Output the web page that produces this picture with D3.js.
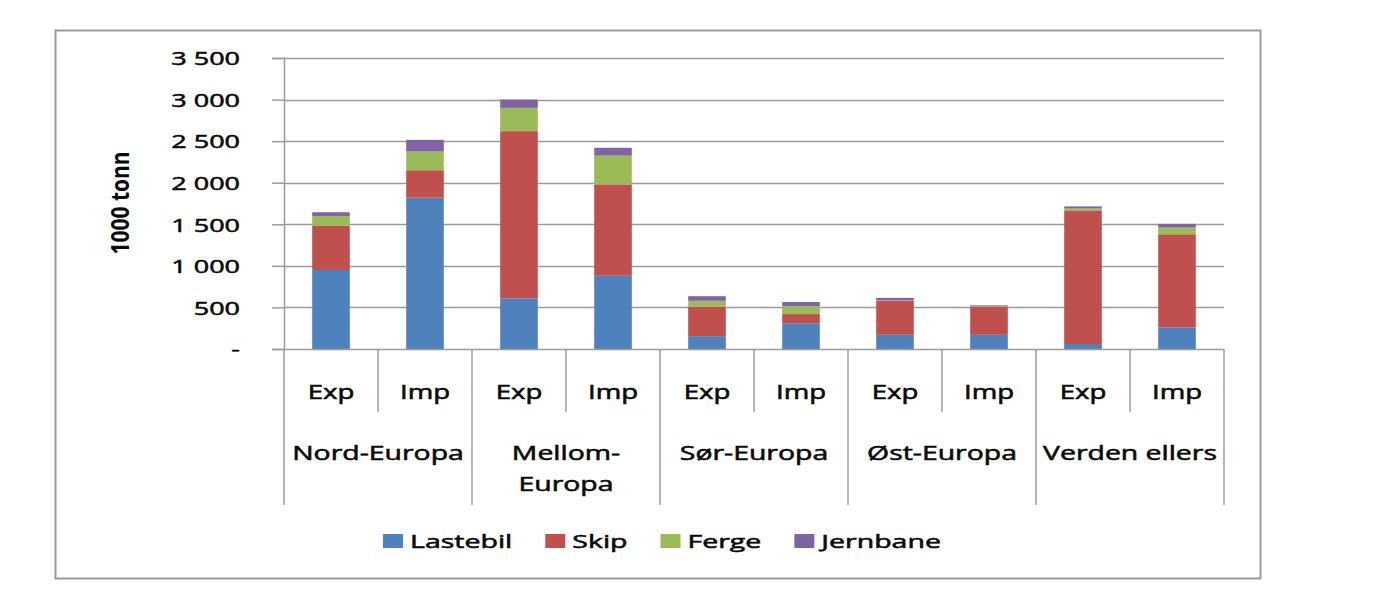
<!DOCTYPE html>
<html>
<head>
<meta charset="utf-8">
<script src="https://cdn.jsdelivr.net/npm/d3@7"></script>
<style>
  html, body { margin: 0; padding: 0; background: #fff; }
  svg { display: block; }
  text { font-family: "Open Sans", "Noto Sans", sans-serif; fill: #0a0a0a; }
</style>
</head>
<body>
<svg id="chart" width="1385" height="590"></svg>
<script>
// ---- Data ----
const regions = ["Nord-Europa", "Mellom-Europa", "Sør-Europa", "Øst-Europa", "Verden ellers"];
const regionLines = [["Nord-Europa"], ["Mellom-", "Europa"], ["Sør-Europa"], ["Øst-Europa"], ["Verden ellers"]];
const flows = ["Exp", "Imp"];
const seriesNames = ["Lastebil", "Skip", "Ferge", "Jernbane"];
const lastebil = [950, 1820, 610, 880, 155, 310, 170, 170, 60, 260];
const skip     = [530, 330, 2010, 1100, 355, 110, 410, 340, 1600, 1120];
const ferge    = [120, 225, 280, 345, 70, 95, 5, 5, 30, 80];
const jernbane = [45, 140, 100, 95, 55, 50, 30, 10, 25, 45];
const yTicks = [0, 500, 1000, 1500, 2000, 2500, 3000, 3500];
const yTickLabels = ["-", "500", "1 000", "1 500", "2 000", "2 500", "3 000", "3 500"];
const yTitle = "1000 tonn";
const colors = ["#4F81BD", "#C0504D", "#9BBB59", "#8064A2"];

// ---- Build table ----
const keys = [];
regions.forEach(r => flows.forEach(f => keys.push(r + "|" + f)));
const table = keys.map((k, i) => ({
  key: k, Lastebil: lastebil[i], Skip: skip[i], Ferge: ferge[i], Jernbane: jernbane[i]
}));
const stacked = d3.stack().keys(seriesNames)(table);

// ---- Layout ----
const svg = d3.select("#chart");
const plot = { left: 284, right: 1224, top: 58, bottom: 349 };

const x = d3.scaleBand().domain(keys).range([plot.left, plot.right]).paddingInner(0.6).paddingOuter(0.3);
const y = d3.scaleLinear().domain([0, 3500]).range([plot.bottom, plot.top]);

function txt(g, px, py, s, opt) {
  const o = Object.assign({ size: 18, weight: 400, anchor: "middle", rotate: 0, sx: 1.4, stroke: 0.55 }, opt || {});
  const gg = g.append("g").attr("transform",
    `translate(${px},${py}) scale(${o.sx},1)` + (o.rotate ? ` rotate(${o.rotate})` : ""));
  return gg.append("text").attr("x", 0).attr("y", 0)
    .attr("text-anchor", o.anchor).attr("dominant-baseline", "central")
    .attr("stroke", "#0a0a0a").attr("stroke-width", o.stroke)
    .style("font-size", o.size + "px").style("font-weight", o.weight).text(s);
}

// Outer frame
svg.append("rect").attr("x", 55.5).attr("y", 30.5).attr("width", 1205).attr("height", 548)
  .attr("fill", "none").attr("stroke", "#9a9a9a").attr("stroke-width", 2);

// Gridlines
svg.append("g").selectAll("line").data(yTicks.filter(d => d > 0)).join("line")
  .attr("x1", plot.left).attr("x2", plot.right)
  .attr("y1", d => Math.round(y(d)) + 0.5).attr("y2", d => Math.round(y(d)) + 0.5)
  .attr("stroke", "#9a9a9a").attr("stroke-width", 1.5);

// Y axis via d3.axisLeft
const yAxis = d3.axisLeft(y).tickValues(yTicks).tickSize(12).tickFormat((d, i) => yTickLabels[i]);
const yg = svg.append("g").attr("transform", `translate(${plot.left},0)`).call(yAxis);
yg.select(".domain").attr("stroke", "#9a9a9a").attr("stroke-width", 1.5);
yg.selectAll(".tick line").attr("stroke", "#9a9a9a").attr("stroke-width", 1.5);
yg.selectAll(".tick text").remove();
yTicks.forEach((d, i) => {
  txt(svg, 240, y(d), yTickLabels[i], { size: 19, anchor: "end", sx: 1.42 });
});

// Y title
txt(svg, 119, 203, yTitle, { size: 21, weight: 700, rotate: -90, sx: 1.2, stroke: 0 });

// Bars
svg.append("g").selectAll("g").data(stacked).join("g")
  .attr("fill", (d, i) => colors[i])
  .selectAll("rect").data(d => d).join("rect")
  .attr("x", d => x(d.data.key))
  .attr("width", x.bandwidth())
  .attr("y", d => y(d[1]))
  .attr("height", d => y(d[0]) - y(d[1]));

// X axis line
svg.append("line").attr("x1", plot.left).attr("x2", plot.right)
  .attr("y1", plot.bottom + 0.5).attr("y2", plot.bottom + 0.5)
  .attr("stroke", "#9a9a9a").attr("stroke-width", 1.5);

// Category separators
const step = x.step();
const sep = svg.append("g").attr("stroke", "#9a9a9a").attr("stroke-width", 1.5);
keys.forEach((k, i) => {
  const left = x(k) - (step - x.bandwidth()) / 2;
  const isGroupStart = i % flows.length === 0;
  sep.append("line").attr("x1", left).attr("x2", left)
    .attr("y1", plot.bottom).attr("y2", isGroupStart ? 505 : 412);
});
const lastKey = keys[keys.length - 1];
const rightEdge = x(lastKey) + x.bandwidth() + (step - x.bandwidth()) / 2;
sep.append("line").attr("x1", rightEdge).attr("x2", rightEdge).attr("y1", plot.bottom).attr("y2", 505);

// Exp/Imp labels
keys.forEach((k, i) => {
  txt(svg, x(k) + x.bandwidth() / 2, 391, flows[i % flows.length], { size: 20, sx: 1.38 });
});

// Region labels
regions.forEach((r, ri) => {
  const first = keys[ri * flows.length], last = keys[ri * flows.length + flows.length - 1];
  const cx = (x(first) + x(last) + x.bandwidth()) / 2;
  regionLines[ri].forEach((line, li) => {
    txt(svg, cx, 452 + li * 31, line, { size: 20, sx: 1.42 });
  });
});

// Legend
let lx = 383;
const ly = 541;
const LSX = 1.5;
seriesNames.forEach((s, i) => {
  svg.append("rect").attr("x", lx).attr("y", ly - 7).attr("width", 20).attr("height", 14).attr("fill", colors[i]);
  const t = txt(svg, lx + 27, ly, s, { size: 19, anchor: "start", sx: LSX });
  const w = t.node().getComputedTextLength() * LSX;
  lx += 27 + w + 33;
});
</script>
</body>
</html>
